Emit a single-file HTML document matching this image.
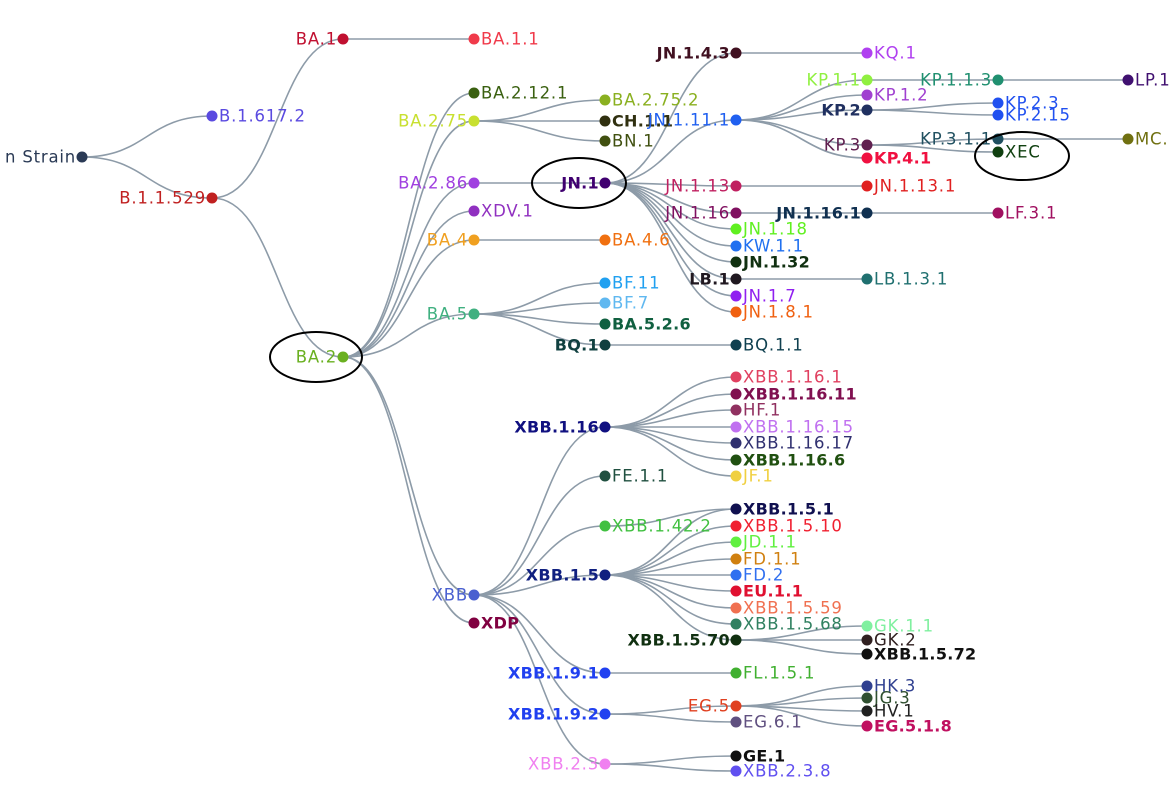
<!DOCTYPE html>
<html><head><meta charset="utf-8"><style>
html,body{margin:0;padding:0;background:#fff;width:1170px;height:800px;overflow:hidden}
svg{display:block}
text{font-family:"DejaVu Sans","Liberation Sans",sans-serif;font-size:16.5px;letter-spacing:0.8px;dominant-baseline:central}
text.b{font-weight:bold;font-size:16px;letter-spacing:0.3px}
</style></head><body>
<svg id="s" width="1170" height="800" xmlns="http://www.w3.org/2000/svg">
<g id="e" fill="none" stroke="#8d9ba8" stroke-width="1.6"></g>
<g id="n"></g>
<g fill="none" stroke="#000" stroke-width="2">
<ellipse cx="316" cy="357" rx="46" ry="25"/>
<ellipse cx="579" cy="183" rx="47" ry="25"/>
<ellipse cx="1022" cy="156" rx="47" ry="24"/>
</g>
</svg>
<script>
var N={
root:[82,157,"#2a3a55","n Strain","L",0],
B16172:[212,116,"#5a4ae0","B.1.617.2","R",0],
B11529:[212,198,"#c02020","B.1.1.529","L",0],
BA1:[343,39,"#c01030","BA.1","L",0],
BA11:[474,39,"#f03a4a","BA.1.1","R",0],
BA2:[343,357,"#6ab020","BA.2","L",0],
BA2121:[474,93,"#3a6010","BA.2.12.1","R",0],
BA275:[474,121,"#c8e030","BA.2.75","L",0],
BA286:[474,183,"#a040e0","BA.2.86","L",0],
XDV1:[474,211,"#9030c0","XDV.1","R",0],
BA4:[474,240,"#f0a020","BA.4","L",0],
BA5:[474,314,"#40b080","BA.5","L",0],
XBB:[474,595,"#4a60d0","XBB","L",0],
XDP:[474,623,"#800040","XDP","R",1],
BA2752:[605,100,"#8ab020","BA.2.75.2","R",0],
CH11:[605,121,"#303010","CH.1.1","R",1],
BN1:[605,141,"#405010","BN.1","R",0],
JN1:[605,183,"#400070","JN.1","L",1],
BA46:[605,240,"#f07010","BA.4.6","R",0],
BF11:[605,283,"#20a0f0","BF.11","R",0],
BF7:[605,303,"#60b8f0","BF.7","R",0],
BA526:[605,324,"#106040","BA.5.2.6","R",1],
BQ1:[605,345,"#104040","BQ.1","L",1],
BQ11:[736,345,"#104050","BQ.1.1","R",0],
JN143:[736,53,"#401020","JN.1.4.3","L",1],
KQ1:[867,53,"#b040f0","KQ.1","R",0],
JN1111:[736,120,"#2060f0","JN.1.11.1","L",0],
JN113:[736,186,"#c02060","JN.1.13","L",0],
JN1131:[867,186,"#e02020","JN.1.13.1","R",0],
JN116:[736,213,"#801060","JN.1.16","L",0],
JN1161:[867,213,"#103050","JN.1.16.1","L",1],
LF31:[998,213,"#a01060","LF.3.1","R",0],
JN118:[736,229,"#60f020","JN.1.18","R",0],
KW11:[736,246,"#2070f0","KW.1.1","R",0],
JN132:[736,262,"#103010","JN.1.32","R",1],
LB1:[736,279,"#201820","LB.1","L",1],
LB131:[867,279,"#207070","LB.1.3.1","R",0],
JN17:[736,296,"#9020f0","JN.1.7","R",0],
JN181:[736,312,"#f06010","JN.1.8.1","R",0],
KP11:[867,80,"#90f040","KP.1.1","L",0],
KP12:[867,95,"#a040d0","KP.1.2","R",0],
KP2:[867,110,"#203060","KP.2","L",1],
KP3:[867,145,"#602050","KP.3","L",0],
KP41:[867,158,"#f01040","KP.4.1","R",1],
KP113:[998,80,"#209070","KP.1.1.3","L",0],
LP1:[1128,80,"#401070","LP.1","R",0],
KP23:[998,103,"#2050f0","KP.2.3","R",0],
KP215:[998,115,"#2050f0","KP.2.15","R",0],
KP311:[998,139,"#205060","KP.3.1.1","L",0],
XEC:[998,152,"#104010","XEC","R",0],
MC1:[1128,139,"#707010","MC.1","R",0],
X116:[605,427,"#101080","XBB.1.16","L",1],
a1:[736,377,"#e04060","XBB.1.16.1","R",0],
a2:[736,394,"#801050","XBB.1.16.11","R",1],
a3:[736,410,"#903060","HF.1","R",0],
a4:[736,427,"#c070f0","XBB.1.16.15","R",0],
a5:[736,443,"#303070","XBB.1.16.17","R",0],
a6:[736,460,"#205010","XBB.1.16.6","R",1],
a7:[736,476,"#f0d040","JF.1","R",0],
FE11:[605,476,"#205040","FE.1.1","R",0],
X1422:[605,526,"#40c040","XBB.1.42.2","R",0],
X15:[605,575,"#102080","XBB.1.5","L",1],
b1:[736,509,"#101050","XBB.1.5.1","R",1],
b2:[736,526,"#f02030","XBB.1.5.10","R",0],
b3:[736,542,"#60f040","JD.1.1","R",0],
b4:[736,559,"#d08010","FD.1.1","R",0],
b5:[736,575,"#3070f0","FD.2","R",0],
b6:[736,591,"#e01030","EU.1.1","R",1],
b7:[736,608,"#f07050","XBB.1.5.59","R",0],
b8:[736,624,"#308060","XBB.1.5.68","R",0],
X1570:[736,640,"#103010","XBB.1.5.70","L",1],
GK11:[867,626,"#80f0a0","GK.1.1","R",0],
GK2:[867,640,"#302020","GK.2","R",0],
X1572:[867,654,"#101010","XBB.1.5.72","R",1],
X191:[605,673,"#2040f0","XBB.1.9.1","L",1],
FL151:[736,673,"#40b030","FL.1.5.1","R",0],
X192:[605,714,"#2040f0","XBB.1.9.2","L",1],
EG5:[736,706,"#e04020","EG.5","L",0],
EG61:[736,722,"#605080","EG.6.1","R",0],
HK3:[867,686,"#304090","HK.3","R",0],
JG3:[867,698,"#305030","JG.3","R",0],
HV1:[867,711,"#202020","HV.1","R",0],
EG518:[867,726,"#c01060","EG.5.1.8","R",1],
X23:[605,764,"#f080f0","XBB.2.3","L",0],
GE1:[736,756,"#101010","GE.1","R",1],
X238:[736,771,"#6050f0","XBB.2.3.8","R",0]
};
var E={root:["B16172","B11529"],B11529:["BA1","BA2"],BA1:["BA11"],
BA2:["BA2121","BA275","BA286","XDV1","BA4","BA5","XBB","XDP"],
BA275:["BA2752","CH11","BN1"],BA286:["JN1"],BA4:["BA46"],BA5:["BF11","BF7","BA526","BQ1"],BQ1:["BQ11"],
JN1:["JN143","JN1111","JN113","JN116","JN118","KW11","JN132","LB1","JN17","JN181"],
JN143:["KQ1"],JN113:["JN1131"],JN116:["JN1161"],JN1161:["LF31"],LB1:["LB131"],
JN1111:["KP11","KP12","KP2","KP3","KP41"],KP11:["KP113"],KP113:["LP1"],KP2:["KP23","KP215"],KP3:["KP311","XEC"],KP311:["MC1"],
XBB:["X116","FE11","X1422","X15","X191","X192","X23"],
X116:["a1","a2","a3","a4","a5","a6","a7"],X1422:["b1"],
X15:["b1","b2","b3","b4","b5","b6","b7","b8","X1570"],X1570:["GK11","GK2","X1572"],
X191:["FL151"],X192:["EG5","EG61"],EG5:["HK3","JG3","HV1","EG518"],X23:["GE1","X238"]};
var ns="http://www.w3.org/2000/svg",ge=document.getElementById("e"),gn=document.getElementById("n");
for(var p in E){E[p].forEach(function(c){var a=N[p],b=N[c],m=(a[0]+b[0])/2;
var el=document.createElementNS(ns,"path");el.setAttribute("d","M"+a[0]+" "+a[1]+"C"+m+" "+a[1]+" "+m+" "+b[1]+" "+b[0]+" "+b[1]);ge.appendChild(el);});}
for(var k in N){var d=N[k];var c=document.createElementNS(ns,"circle");c.setAttribute("cx",d[0]);c.setAttribute("cy",d[1]);c.setAttribute("r",5.5);c.setAttribute("fill",d[2]);gn.appendChild(c);
var t=document.createElementNS(ns,"text");t.textContent=d[3];t.setAttribute("fill",d[2]);t.setAttribute("y",d[1]);
if(d[4]=="L"){t.setAttribute("x",d[0]-6);t.setAttribute("text-anchor","end");}else{t.setAttribute("x",d[0]+7);}
if(d[5])t.setAttribute("class","b");gn.appendChild(t);}
</script>
</body></html>
